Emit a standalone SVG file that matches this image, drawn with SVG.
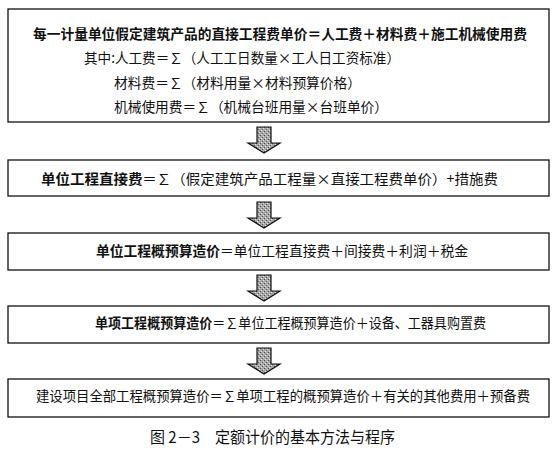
<svg xmlns="http://www.w3.org/2000/svg" width="560" height="453" viewBox="0 0 560 453">
<style>
.box{fill:#fff;stroke:#111;stroke-width:1.3}
.t{font-family:"Noto Sans CJK SC","Noto Sans",sans-serif;font-size:14px;fill:#111}
.b{font-weight:bold}
.arrow{fill:url(#stip);stroke:#111;stroke-width:1.2;stroke-linejoin:miter}
</style>
<defs>
<pattern id="stip" width="4" height="4" patternUnits="userSpaceOnUse">
<rect width="4" height="4" fill="#a8a8a8"/>
<rect x="0" y="0" width="1" height="1" fill="#4a4a4a"/>
<rect x="2" y="2" width="1" height="1" fill="#5a5a5a"/>
<rect x="3" y="1" width="1" height="1" fill="#e0e0e0"/>
<rect x="1" y="3" width="1" height="1" fill="#e8e8e8"/>
</pattern>
<path id="arr" d="M-7,0 H7 V16 H16 L0,26 L-16,16 H-7 Z"/>
</defs>
<rect width="560" height="453" fill="#fff"/>
<g id="connectors">
<use href="#arr" class="arrow" x="264" y="127"/>
<use href="#arr" class="arrow" x="264" y="202"/>
<use href="#arr" class="arrow" x="264" y="275"/>
<use href="#arr" class="arrow" x="264" y="348"/>
</g>
<g id="node1">
<rect class="box" x="8" y="9" width="541" height="113"/>
<text class="t b" x="33" y="39" textLength="494" lengthAdjust="spacingAndGlyphs">每一计量单位假定建筑产品的直接工程费单价＝人工费＋材料费＋施工机械使用费</text>
<text class="t" x="84" y="63" textLength="316" lengthAdjust="spacingAndGlyphs">其中:人工费＝∑（人工工日数量×工人日工资标准）</text>
<text class="t" x="114" y="88" textLength="247" lengthAdjust="spacingAndGlyphs">材料费＝∑（材料用量×材料预算价格）</text>
<text class="t" x="114" y="112" textLength="274" lengthAdjust="spacingAndGlyphs">机械使用费＝∑（机械台班用量×台班单价）</text>
</g>
<g id="node2">
<rect class="box" x="8" y="160" width="541" height="36"/>
<text class="t" x="41" y="184" textLength="457" lengthAdjust="spacingAndGlyphs"><tspan class="b">单位工程直接费</tspan>＝∑（假定建筑产品工程量×直接工程费单价）+措施费</text>
</g>
<g id="node3">
<rect class="box" x="8" y="233" width="541" height="37"/>
<text class="t" x="96" y="256" textLength="372" lengthAdjust="spacingAndGlyphs"><tspan class="b">单位工程概预算造价</tspan>＝单位工程直接费＋间接费＋利润＋税金</text>
</g>
<g id="node4">
<rect class="box" x="8" y="306" width="541" height="37"/>
<text class="t" x="95" y="328" textLength="391" lengthAdjust="spacingAndGlyphs"><tspan class="b">单项工程概预算造价</tspan>＝∑单位工程概预算造价＋设备、工器具购置费</text>
</g>
<g id="node5">
<rect class="box" x="8" y="379" width="541" height="38"/>
<text class="t" x="36" y="401" textLength="494" lengthAdjust="spacingAndGlyphs">建设项目全部工程概预算造价＝∑单项工程的概预算造价＋有关的其他费用＋预备费</text>
</g>
<g id="caption">
<text class="t" x="150" y="443" textLength="245" lengthAdjust="spacingAndGlyphs" style="font-size:16px">图 2－3　定额计价的基本方法与程序</text>
</g>
</svg>
